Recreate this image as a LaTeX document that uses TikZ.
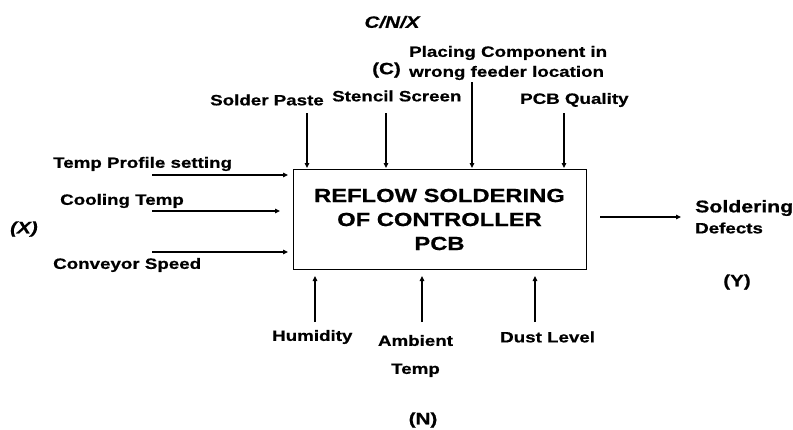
\documentclass[tikz,border=0pt]{standalone}
\usepackage{fontspec}
\setmainfont[FakeStretch=1.25,BoldFeatures={FakeBold=0.6},BoldItalicFeatures={FakeBold=0.6}]{Liberation Sans}
\usetikzlibrary{arrows.meta}
\begin{document}
\begin{tikzpicture}[x=1pt,y=-1pt,
  lbl/.style={inner sep=0pt,font=\fontsize{15}{18}\selectfont\bfseries},
  tag/.style={inner sep=0pt,font=\fontsize{16.5}{20}\selectfont\bfseries},
  itag/.style={inner sep=0pt,font=\fontsize{16.5}{20}\selectfont\bfseries\itshape},
  arr/.style={draw=black,line width=1.2pt,-{Triangle[length=5pt,width=4.5pt]}},
  proc/.style={draw=black,line width=1pt,minimum width=293pt,minimum height=100pt,inner sep=0pt,align=center,font=\fontsize{19}{24}\selectfont\bfseries}]
\useasboundingbox (0,0) rectangle (793,429);
% main box
\node[proc] (box) at (439.5,219.5) {REFLOW SOLDERING\\OF CONTROLLER\\PCB};
% top labels
\node[itag] (cnx) at (392,22) {C/N/X};
\node[lbl,anchor=west,align=left,font=\fontsize{15}{20}\selectfont\bfseries] (place) at (409,63) {Placing Component in\\wrong feeder location};
\node[tag,anchor=west] (c) at (372,70) {(C)};
\node[lbl,anchor=west] (paste) at (210,100) {Solder Paste};
\node[lbl,anchor=west] (stencil) at (332,96) {Stencil Screen};
\node[lbl,anchor=west] (pcbq) at (520,100) {PCB Quality};
% top arrows
\coordinate (p1) at (307,113); \coordinate (p1e) at (307,168);
\coordinate (s1) at (386,113); \coordinate (s1e) at (386,168);
\coordinate (w1) at (472,82);  \coordinate (w1e) at (472,168);
\coordinate (q1) at (564,113); \coordinate (q1e) at (564,168);
\draw[arr] (p1) -- (p1e);
\draw[arr] (s1) -- (s1e);
\draw[arr] (w1) -- (w1e);
\draw[arr] (q1) -- (q1e);
% left labels
\node[lbl,anchor=west] (tps) at (53,164) {Temp Profile setting};
\node[lbl,anchor=west] (cool) at (60,201) {Cooling Temp};
\node[itag,anchor=west] (x) at (10,229) {(X)};
\node[lbl,anchor=west] (conv) at (53,265) {Conveyor Speed};
\coordinate (l1) at (152,175); \coordinate (l1e) at (288,175);
\coordinate (l2) at (152,211); \coordinate (l2e) at (280,211);
\coordinate (l3) at (152,252); \coordinate (l3e) at (288,252);
\draw[arr] (l1) -- (l1e);
\draw[arr] (l2) -- (l2e);
\draw[arr] (l3) -- (l3e);
% bottom
\coordinate (b1) at (315,322); \coordinate (b1e) at (315,276);
\coordinate (b2) at (422,322); \coordinate (b2e) at (422,276);
\coordinate (b3) at (535,322); \coordinate (b3e) at (535,276);
\draw[arr] (b1) -- (b1e);
\draw[arr] (b2) -- (b2e);
\draw[arr] (b3) -- (b3e);
\node[lbl,anchor=west] (hum) at (272,337) {Humidity};
\node[lbl,align=center,font=\fontsize{15}{28}\selectfont\bfseries] (amb) at (415.5,356) {Ambient\\Temp};
\node[lbl,anchor=west] (dust) at (500,337) {Dust Level};
\node[tag] (n) at (423,420) {(N)};
% right
\coordinate (r1) at (600,217); \coordinate (r1e) at (681,217);
\draw[arr] (r1) -- (r1e);
\node[inner sep=0pt,anchor=west,font=\bfseries] (sold) at (695,208) {\fontsize{17}{20}\selectfont Soldering};
\node[lbl,anchor=west] (def) at (695,228) {Defects};
\node[tag] (y) at (737,282) {(Y)};
\end{tikzpicture}
\end{document}
